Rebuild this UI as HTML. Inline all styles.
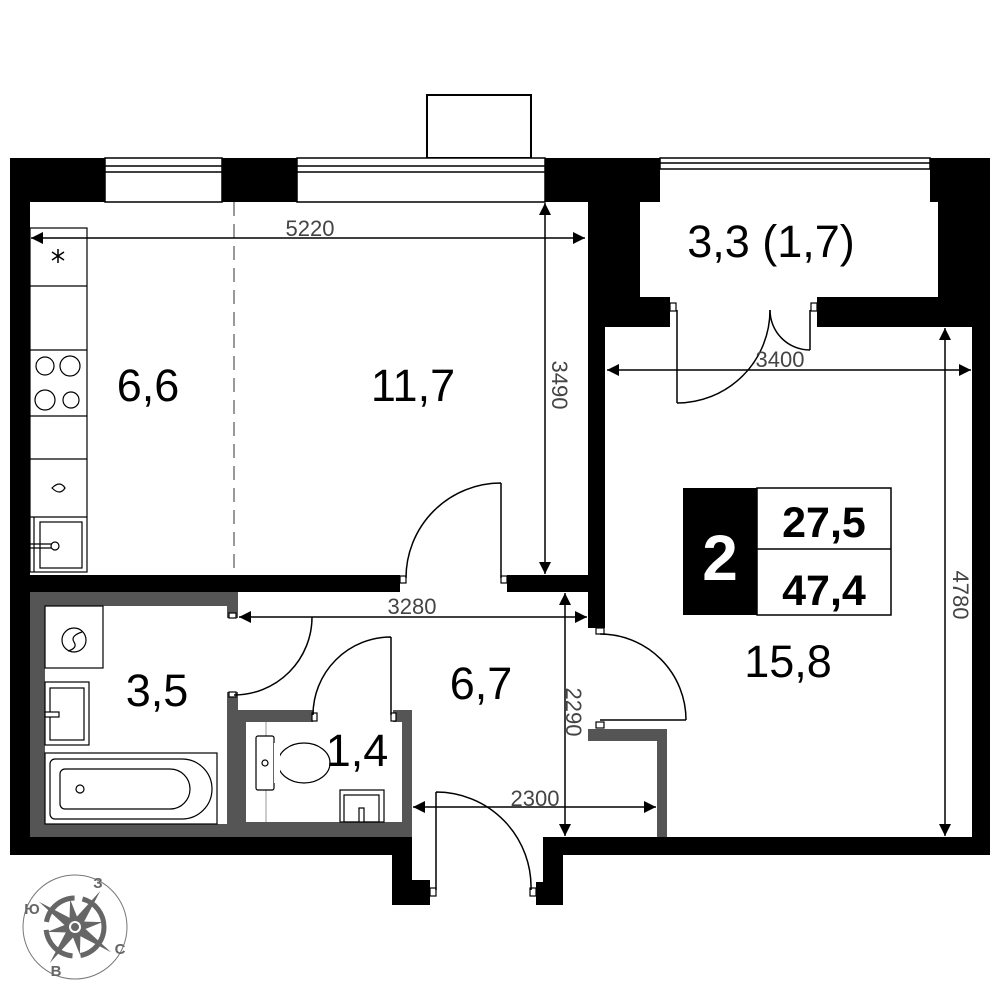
<!DOCTYPE html>
<html><head><meta charset="utf-8"><style>
html,body{margin:0;padding:0;background:#fff;}
svg{display:block}
text{font-family:"Liberation Sans",sans-serif;}
</style></head><body>
<svg width="1000" height="1000" viewBox="0 0 1000 1000" xmlns="http://www.w3.org/2000/svg">
<defs>
<marker id="a" viewBox="0 0 10 10" refX="10" refY="5" markerWidth="16" markerHeight="12" markerUnits="userSpaceOnUse" orient="auto-start-reverse"><path d="M0,0 L10,5 L0,10 z" fill="#000"/></marker>
</defs>
<rect x="427" y="95" width="104" height="63" fill="#fff" stroke="#000" stroke-width="2"/>
<g fill="#000">
<rect x="10" y="158" width="95" height="44"/>
<rect x="10" y="158" width="20" height="697"/>
<rect x="222" y="158" width="75" height="44"/>
<rect x="545" y="158" width="115" height="44"/>
<rect x="588" y="202" width="52" height="95"/>
<rect x="588" y="297" width="82" height="30"/>
<rect x="588" y="327" width="17" height="301"/>
<rect x="930" y="158" width="60" height="44"/>
<rect x="938" y="202" width="52" height="95"/>
<rect x="817" y="297" width="173" height="30"/>
<rect x="972" y="297" width="18" height="558"/>
<rect x="10" y="575" width="390" height="17"/>
<rect x="507" y="575" width="81" height="17"/>
<rect x="10" y="837" width="402" height="18"/>
<rect x="392" y="837" width="20" height="68"/>
<rect x="392" y="880" width="38" height="25"/>
<rect x="543" y="837" width="447" height="18"/>
<rect x="543" y="837" width="20" height="68"/>
<rect x="536" y="882" width="27" height="23"/>
</g>
<g fill="#fff" stroke="#000" stroke-width="1.5">
<rect x="105" y="158" width="117" height="44"/>
<line x1="105" y1="166" x2="222" y2="166"/><line x1="105" y1="172" x2="222" y2="172"/>
<rect x="297" y="158" width="248" height="44"/>
<line x1="297" y1="166" x2="545" y2="166"/><line x1="297" y1="172" x2="545" y2="172"/>
<rect x="660" y="158" width="270" height="11"/>
<line x1="660" y1="163" x2="930" y2="163"/>
</g>
<g fill="#555">
<rect x="30" y="592" width="208" height="245"/>
<rect x="228" y="710" width="184" height="127"/>
<rect x="588" y="729" width="79" height="12"/>
<rect x="657" y="729" width="10" height="108"/>
</g>
<g fill="#fff">
<rect x="45" y="606" width="182" height="218"/>
<rect x="227" y="618" width="11" height="74"/>
<rect x="246" y="722" width="156" height="100"/>
<rect x="313" y="710" width="80" height="12"/>
</g>
<g fill="#fff" stroke="#000" stroke-width="1.2">
<rect x="400" y="576" width="6" height="7"/><rect x="501" y="576" width="6" height="7"/>
<rect x="670" y="303" width="6" height="8"/><rect x="811" y="303" width="6" height="8"/>
<rect x="596" y="628" width="8" height="6"/><rect x="596" y="722" width="8" height="6"/>
<rect x="229" y="613" width="7" height="5"/><rect x="229" y="692" width="7" height="5"/>
<rect x="312" y="713" width="5" height="8"/><rect x="391" y="713" width="5" height="8"/>
<rect x="430" y="888" width="6" height="8"/><rect x="530" y="888" width="6" height="8"/>
</g>
<g fill="none" stroke="#000" stroke-width="1.5">
<path d="M501,483 L501,578 M501,483 A95,95 0 0 0 406,578"/>
<path d="M677,310 L677,403 M770,310 A93,93 0 0 1 677,403"/>
<path d="M810,310 L810,350 M770,310 A40,40 0 0 0 810,350"/>
<path d="M600,720 L686,720 M600,634 A86,86 0 0 1 686,720"/>
<path d="M312,617 A78,78 0 0 1 234,695"/>
<path d="M391,637 L391,715 M391,637 A78,78 0 0 0 313,715"/>
<path d="M436,792 L436,890 M436,792 A95,95 0 0 1 531,890"/>
</g>
<line x1="234" y1="202" x2="234" y2="575" stroke="#555" stroke-width="1.2" stroke-dasharray="14,8"/>
<g stroke="#000" stroke-width="1.5" fill="none">
<line x1="31" y1="238" x2="585" y2="238" marker-start="url(#a)" marker-end="url(#a)"/>
<line x1="545" y1="203" x2="545" y2="574" marker-start="url(#a)" marker-end="url(#a)"/>
<line x1="607" y1="370" x2="971" y2="370" marker-start="url(#a)" marker-end="url(#a)"/>
<line x1="945" y1="328" x2="945" y2="836" marker-start="url(#a)" marker-end="url(#a)"/>
<line x1="239" y1="617" x2="587" y2="617" marker-start="url(#a)" marker-end="url(#a)"/>
<line x1="565" y1="593" x2="565" y2="836" marker-start="url(#a)" marker-end="url(#a)"/>
<line x1="413" y1="807" x2="656" y2="807" marker-start="url(#a)" marker-end="url(#a)"/>
</g>
<g fill="#444" font-size="22">
<text x="310" y="236" text-anchor="middle">5220</text>
<text x="780" y="367" text-anchor="middle">3400</text>
<text x="412" y="614" text-anchor="middle">3280</text>
<text x="535" y="806" text-anchor="middle">2300</text>
<text transform="translate(552,385) rotate(90)" text-anchor="middle">3490</text>
<text transform="translate(953,595) rotate(90)" text-anchor="middle">4780</text>
<text transform="translate(566,712) rotate(90)" text-anchor="middle">2290</text>
</g>
<g fill="none" stroke="#000" stroke-width="1.2">
<rect x="30" y="228" width="57" height="344"/>
<line x1="30" y1="286" x2="87" y2="286"/><line x1="30" y1="350" x2="87" y2="350"/>
<line x1="30" y1="416" x2="87" y2="416"/><line x1="30" y1="459" x2="87" y2="459"/>
<line x1="30" y1="517" x2="87" y2="517"/>
<circle cx="45" cy="366" r="9"/><circle cx="70" cy="366" r="10"/>
<circle cx="45" cy="400" r="10"/><circle cx="71" cy="400" r="8"/>
<path d="M52,488 Q60,480 65,488 Q60,496 52,488 z"/>
<rect x="40" y="522" width="42" height="46"/><line x1="34" y1="517" x2="34" y2="572"/>
<line x1="30" y1="544" x2="52" y2="544"/><line x1="30" y1="548" x2="52" y2="548"/>
<circle cx="55" cy="546" r="4" fill="#fff"/>
<path d="M58,249 L58,263 M52,252 L64,260 M64,252 L52,260" stroke-width="1.5"/>
</g>
<g fill="none" stroke="#000" stroke-width="1.2">
<rect x="45" y="606" width="58" height="62"/>
<circle cx="74" cy="640" r="12"/><path d="M82,632 Q70,636 74,642 Q78,648 68,651"/>
<rect x="45" y="682" width="44" height="63"/><rect x="50" y="688" width="34" height="52"/>
<rect x="45" y="712" width="14" height="5" fill="#fff"/>
<rect x="45" y="753" width="172" height="71"/>
<path d="M55,759 L182,759 A30,30 0 0 1 182,819 L55,819 A5,5 0 0 1 50,814 L50,764 A5,5 0 0 1 55,759 z"/>
<path d="M65,769 L170,769 A20,20 0 0 1 170,809 L65,809 A5,5 0 0 1 60,804 L60,774 A5,5 0 0 1 65,769 z"/>
<circle cx="80" cy="789" r="4"/>
<line x1="266" y1="722" x2="266" y2="822" stroke="#999" stroke-width="1"/>
<rect x="256" y="736" width="18" height="54" rx="2" fill="#fff"/>
<ellipse cx="304" cy="763" rx="26" ry="20" fill="#fff"/>
<rect x="274" y="743" width="6" height="40" fill="#fff" stroke="none"/>
<circle cx="265" cy="763" r="3"/>
<rect x="340" y="790" width="44" height="32"/><rect x="344" y="795" width="35" height="27"/>
<rect x="359" y="808" width="5" height="14" fill="#fff"/>
</g>
<g fill="#000" font-size="45" text-anchor="middle">
<text x="148" y="401">6,6</text>
<text x="413" y="401">11,7</text>
<text x="771" y="257">3,3 (1,7)</text>
<text x="788" y="677">15,8</text>
<text x="157" y="706">3,5</text>
<text x="357" y="766">1,4</text>
<text x="481" y="699">6,7</text>
</g>
<rect x="683" y="488" width="74" height="127" fill="#000"/>
<rect x="757" y="488" width="134" height="127" fill="#fff" stroke="#000" stroke-width="1.5"/>
<line x1="757" y1="549" x2="891" y2="549" stroke="#000" stroke-width="1.5"/>
<text x="720" y="580" font-size="64" font-weight="bold" fill="#fff" text-anchor="middle">2</text>
<text x="824" y="537" font-size="43" font-weight="bold" text-anchor="middle">27,5</text>
<text x="824" y="605" font-size="43" font-weight="bold" text-anchor="middle">47,4</text>
<g>
<circle cx="75" cy="927" r="52" fill="none" stroke="#777" stroke-width="1"/>
<circle cx="75" cy="927" r="29" fill="none" stroke="#666" stroke-width="5" stroke-dasharray="40,8"/>
<g fill="#666" transform="translate(75,927) rotate(35)">
<path d="M0,-44 L5,-5 L0,0 L-5,-5 z"/><path d="M0,44 L5,5 L0,0 L-5,5 z"/>
<path d="M-44,0 L-5,5 L0,0 L-5,-5 z"/><path d="M44,0 L5,5 L0,0 L5,-5 z"/>
<g transform="rotate(45)"><path d="M0,-28 L5,-4 L-5,-4 z"/><path d="M0,28 L5,4 L-5,4 z"/><path d="M-28,0 L-4,5 L-4,-5 z"/><path d="M28,0 L4,5 L4,-5 z"/></g>
<circle r="9" fill="#666"/><circle r="6" fill="#fff"/><circle r="4" fill="#666"/>
</g>
<g fill="#666" font-size="15" font-weight="bold" text-anchor="middle">
<text x="98" y="888">З</text><text x="32" y="914">Ю</text><text x="120" y="954">С</text><text x="56" y="976">В</text>
</g>
</g>
</svg>
</body></html>
